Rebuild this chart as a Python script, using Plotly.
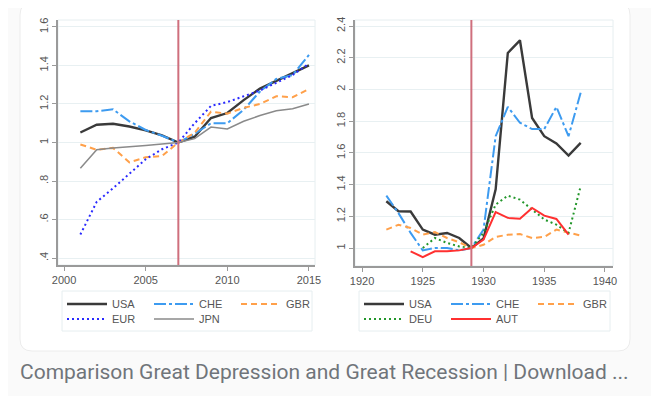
import plotly.graph_objects as go

# The page body adds an 8px margin; the figure is sized so that it fills the
# rest of the 659x396 window, and all layout positions are given in window pixels.
OFF = 8
FW, FH = 659 - OFF, 396 - OFF

# ---------------- data: Great Recession (left panel) ----------------
years_gr = [2001, 2002, 2003, 2004, 2005, 2006, 2007, 2008, 2009, 2010, 2011, 2012, 2013, 2014, 2015]
usa_gr = [1.052, 1.092, 1.097, 1.083, 1.063, 1.037, 1.0, 1.03, 1.127, 1.153, 1.22, 1.28, 1.32, 1.36, 1.40]
che_gr = [1.162, 1.162, 1.172, 1.11, 1.065, 1.035, 1.0, 1.045, 1.10, 1.10, 1.17, 1.265, 1.33, 1.35, 1.455]
gbr_gr = [0.99, 0.962, 0.972, 0.897, 0.923, 0.93, 1.0, 1.05, 1.16, 1.15, 1.18, 1.20, 1.24, 1.235, 1.278]
eur_gr = [0.522, 0.692, 0.762, 0.84, 0.913, 0.965, 1.0, 1.10, 1.19, 1.21, 1.24, 1.27, 1.31, 1.35, 1.41]
jpn_gr = [0.866, 0.962, 0.972, 0.977, 0.985, 0.992, 1.0, 1.02, 1.08, 1.07, 1.11, 1.14, 1.165, 1.175, 1.20]
crisis_gr = 2007

# ---------------- data: Great Depression (right panel) ----------------
years_gd = [1922, 1923, 1924, 1925, 1926, 1927, 1928, 1929, 1930, 1931, 1932, 1933, 1934, 1935, 1936, 1937, 1938]
usa_gd = [1.295, 1.232, 1.23, 1.116, 1.084, 1.095, 1.063, 1.0, 1.06, 1.37, 2.23, 2.31, 1.82, 1.705, 1.66, 1.583, 1.663]
che_gd = [1.33, 1.22, 1.095, 0.985, 1.0, 1.0, 0.985, 1.0, 1.116, 1.705, 1.89, 1.79, 1.75, 1.75, 1.89, 1.705, 1.98]
gbr_gd = [1.116, 1.147, 1.126, 1.084, 1.10, 1.063, 1.036, 1.0, 1.02, 1.07, 1.084, 1.088, 1.063, 1.07, 1.116, 1.095, 1.078]
years_deu = [1925, 1926, 1927, 1928, 1929, 1930, 1931, 1932, 1933, 1934, 1935, 1936, 1937, 1938]
deu_gd = [1.0, 1.063, 1.032, 1.01, 1.0, 1.095, 1.274, 1.33, 1.305, 1.242, 1.18, 1.147, 1.095, 1.39]
years_aut = [1924, 1925, 1926, 1927, 1928, 1929, 1930, 1931, 1932, 1933, 1934, 1935, 1936, 1937]
aut_gd = [0.979, 0.943, 0.979, 0.979, 0.985, 1.0, 1.053, 1.227, 1.19, 1.185, 1.253, 1.204, 1.183, 1.084]
crisis_gd = 1929

# tick labels
ytick_gr_vals = [0.4, 0.6, 0.8, 1.0, 1.2, 1.4, 1.6]
ytick_gr_text = [".4", ".6", ".8", "1", "1.2", "1.4", "1.6"]
xtick_gr = [2000, 2005, 2010, 2015]
ytick_gd_vals = [1.0, 1.2, 1.4, 1.6, 1.8, 2.0, 2.2, 2.4]
ytick_gd_text = ["1", "1.2", "1.4", "1.6", "1.8", "2", "2.2", "2.4"]
xtick_gd = [1920, 1925, 1930, 1935, 1940]

caption = "Comparison Great Depression and Great Recession | Download ..."


def px_x(p):
    return (p - OFF) / FW


def px_y(p):
    return 1 - (p - OFF) / FH


C_USA = "#3a3a3a"
C_CHE = "#3d9bf0"
C_GBR = "#ffa04a"
C_EUR = "#2a2aff"
C_JPN = "#8a8a8a"
C_DEU = "#22962a"
C_AUT = "#ff3030"
CHE_DASH = "12px,3px,3px,3px"
GBR_DASH = "6px,4px"
DOT = "2px,3px"

fig = go.Figure()

# left panel traces
fig.add_trace(go.Scatter(x=years_gr, y=usa_gr, name="USA", mode="lines",
                         line=dict(color=C_USA, width=2.4), xaxis="x", yaxis="y", legend="legend"))
fig.add_trace(go.Scatter(x=years_gr, y=che_gr, name="CHE", mode="lines",
                         line=dict(color=C_CHE, width=2, dash=CHE_DASH), xaxis="x", yaxis="y", legend="legend"))
fig.add_trace(go.Scatter(x=years_gr, y=gbr_gr, name="GBR", mode="lines",
                         line=dict(color=C_GBR, width=2, dash=GBR_DASH), xaxis="x", yaxis="y", legend="legend"))
fig.add_trace(go.Scatter(x=years_gr, y=eur_gr, name="EUR", mode="lines",
                         line=dict(color=C_EUR, width=2, dash=DOT), xaxis="x", yaxis="y", legend="legend2"))
fig.add_trace(go.Scatter(x=years_gr, y=jpn_gr, name="JPN", mode="lines",
                         line=dict(color=C_JPN, width=1.5), xaxis="x", yaxis="y", legend="legend2"))

# right panel traces
fig.add_trace(go.Scatter(x=years_gd, y=usa_gd, name="USA", mode="lines",
                         line=dict(color=C_USA, width=2.4), xaxis="x2", yaxis="y2", legend="legend3"))
fig.add_trace(go.Scatter(x=years_gd, y=che_gd, name="CHE", mode="lines",
                         line=dict(color=C_CHE, width=2, dash=CHE_DASH), xaxis="x2", yaxis="y2", legend="legend3"))
fig.add_trace(go.Scatter(x=years_gd, y=gbr_gd, name="GBR", mode="lines",
                         line=dict(color=C_GBR, width=2, dash=GBR_DASH), xaxis="x2", yaxis="y2", legend="legend3"))
fig.add_trace(go.Scatter(x=years_deu, y=deu_gd, name="DEU", mode="lines",
                         line=dict(color=C_DEU, width=2, dash=DOT), xaxis="x2", yaxis="y2", legend="legend4"))
fig.add_trace(go.Scatter(x=years_aut, y=aut_gd, name="AUT", mode="lines",
                         line=dict(color=C_AUT, width=2), xaxis="x2", yaxis="y2", legend="legend4"))

tickfont = dict(family="Liberation Sans", size=11, color="#555555")
grid_c = "#e8f0f2"
axis_c = "#9a9a9a"
frame_c = "#e6eef0"

common_x = dict(showline=True, linecolor=axis_c, linewidth=1.5, ticks="outside", ticklen=4,
                tickcolor=axis_c, tickwidth=1, showgrid=False, zeroline=False, tickfont=tickfont)
common_y = dict(showline=True, linecolor=axis_c, linewidth=1.5, ticks="outside", ticklen=4,
                tickcolor=axis_c, tickwidth=1, showgrid=True, gridcolor=grid_c, gridwidth=1,
                zeroline=False, tickfont=tickfont, tickangle=-90)

legend_common = dict(orientation="h", xanchor="left", yanchor="middle", bgcolor="rgba(0,0,0,0)",
                     font=dict(family="Liberation Sans", size=11, color="#555555"),
                     entrywidth=32, entrywidthmode="pixels", itemwidth=40,
                     tracegroupgap=0, itemclick=False, itemdoubleclick=False)

# card with rounded corners
cx0, cy0, cx1, cy1, r = 20, 3, 630, 351, 12
card_path = (
    f"M {px_x(cx0 + r)} {px_y(cy0)} L {px_x(cx1 - r)} {px_y(cy0)} "
    f"Q {px_x(cx1)} {px_y(cy0)} {px_x(cx1)} {px_y(cy0 + r)} "
    f"L {px_x(cx1)} {px_y(cy1 - r)} Q {px_x(cx1)} {px_y(cy1)} {px_x(cx1 - r)} {px_y(cy1)} "
    f"L {px_x(cx0 + r)} {px_y(cy1)} Q {px_x(cx0)} {px_y(cy1)} {px_x(cx0)} {px_y(cy1 - r)} "
    f"L {px_x(cx0)} {px_y(cy0 + r)} Q {px_x(cx0)} {px_y(cy0)} {px_x(cx0 + r)} {px_y(cy0)} Z"
)

shapes = [
    dict(type="path", path=card_path, xref="paper", yref="paper", fillcolor="white",
         line=dict(color="#ececec", width=1), layer="below"),
    # faint plot-region frames
    dict(type="rect", xref="x domain", yref="y domain", x0=0, x1=1, y0=0, y1=1,
         line=dict(color=frame_c, width=1), fillcolor="rgba(0,0,0,0)", layer="below"),
    dict(type="rect", xref="x2 domain", yref="y2 domain", x0=0, x1=1, y0=0, y1=1,
         line=dict(color=frame_c, width=1), fillcolor="rgba(0,0,0,0)", layer="below"),
    # legend boxes
    dict(type="rect", xref="paper", yref="paper", x0=px_x(62), x1=px_x(312), y0=px_y(331), y1=px_y(291),
         line=dict(color=frame_c, width=1), fillcolor="rgba(0,0,0,0)", layer="below"),
    dict(type="rect", xref="paper", yref="paper", x0=px_x(359), x1=px_x(610), y0=px_y(331), y1=px_y(291),
         line=dict(color=frame_c, width=1), fillcolor="rgba(0,0,0,0)", layer="below"),
    # crisis lines
    dict(type="line", xref="x", yref="y domain", x0=crisis_gr, x1=crisis_gr, y0=0, y1=1,
         line=dict(color="#cf6f7d", width=2)),
    dict(type="line", xref="x2", yref="y2 domain", x0=crisis_gd, x1=crisis_gd, y0=0, y1=1,
         line=dict(color="#cf6f7d", width=2)),
]

fig.update_layout(
    width=FW, height=FH,
    margin=dict(l=0, r=0, t=0, b=0, autoexpand=False),
    paper_bgcolor="#fafafa",
    plot_bgcolor="white",
    showlegend=True,
    xaxis=dict(domain=[px_x(58), px_x(315)], range=[1999.63, 2015.37], tickvals=xtick_gr,
               anchor="y", **common_x),
    yaxis=dict(domain=[px_y(265), px_y(20)], range=[0.364, 1.636], tickvals=ytick_gr_vals,
               ticktext=ytick_gr_text, anchor="x", **common_y),
    xaxis2=dict(domain=[px_x(355), px_x(613)], range=[1919.42, 1940.66], tickvals=xtick_gd,
                anchor="y2", **common_x),
    yaxis2=dict(domain=[px_y(266), px_y(20)], range=[0.8865, 2.438], tickvals=ytick_gd_vals,
                ticktext=ytick_gd_text, anchor="x2", **common_y),
    legend=dict(x=px_x(62), y=px_y(304), **legend_common),
    legend2=dict(x=px_x(62), y=px_y(319), **legend_common),
    legend3=dict(x=px_x(359), y=px_y(304), **legend_common),
    legend4=dict(x=px_x(359), y=px_y(319), **legend_common),
    shapes=shapes,
    annotations=[
        dict(text=caption, xref="paper", yref="paper", x=px_x(18), y=px_y(372),
             xanchor="left", yanchor="middle", showarrow=False,
             font=dict(family="Roboto", size=21, color="#70757a")),
    ],
)

fig.write_html("out.html")
